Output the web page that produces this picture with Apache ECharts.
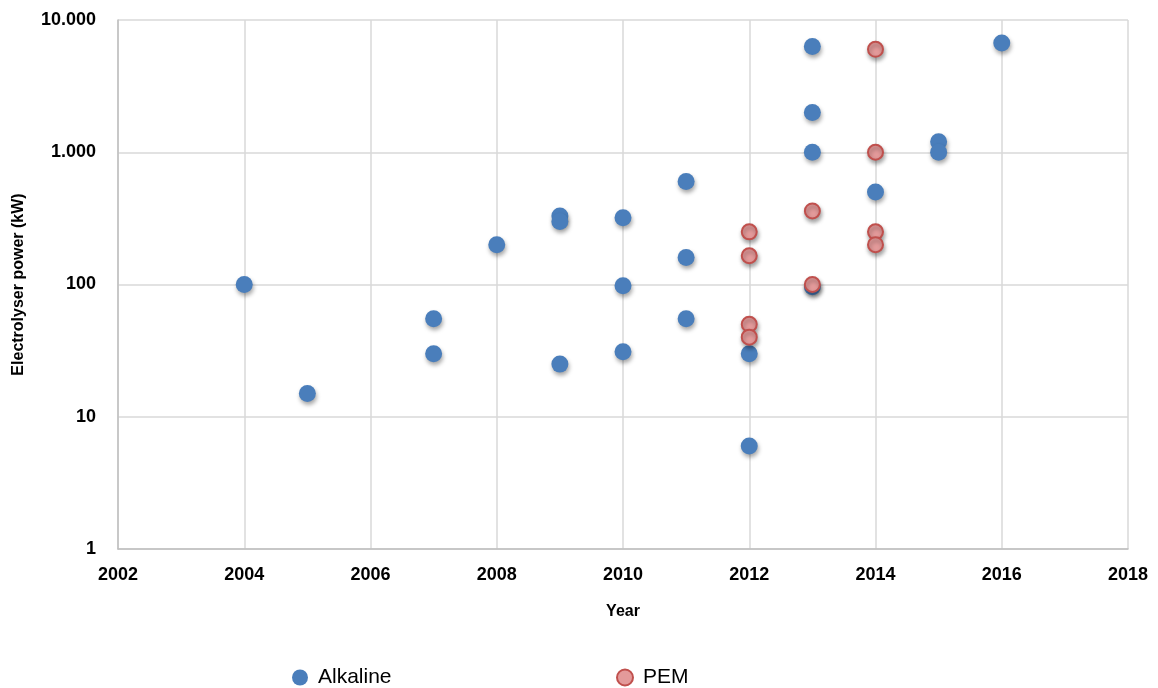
<!DOCTYPE html>
<html>
<head>
<meta charset="utf-8">
<script src="https://cdn.jsdelivr.net/npm/echarts@6/dist/echarts.min.js"></script>
<style>
  html, body { margin: 0; padding: 0; background: #fff; }
  #chart { width: 1158px; height: 688px; }
</style>
</head>
<body>
<div id="chart"></div>
<script>
// Installation year and electrolyser power (kW) per technology
const alkalineYears = [2004, 2005, 2007, 2007, 2008, 2009, 2009, 2009, 2010, 2010, 2010, 2011, 2011, 2011, 2012, 2012, 2013, 2013, 2013, 2013, 2014, 2015, 2015, 2016];
const alkalinePower = [100, 15, 55, 30, 200, 330, 300, 25, 320, 98, 31, 600, 160, 55, 30, 6, 6300, 2000, 1000, 96, 500, 1200, 1000, 6700];

const pemYears = [2012, 2012, 2012, 2012, 2013, 2013, 2014, 2014, 2014, 2014];
const pemPower = [250, 165, 50, 40, 360, 100, 6000, 1000, 250, 200];

const yTicks = [1, 10, 100, 1000, 10000];
const yTickLabels = ['1', '10', '100', '1.000', '10.000'];

const toPoints = (xs, ys) => xs.map((x, i) => [x, ys[i]]);

const FONT = 'Liberation Sans, Arial, sans-serif';
const shadow = {
  shadowBlur: 4,
  shadowOffsetX: 1,
  shadowOffsetY: 3,
  shadowColor: 'rgba(0,0,0,0.35)'
};

const chart = echarts.init(document.getElementById('chart'), null, { renderer: 'canvas' });
chart.setOption({
  animation: false,
  backgroundColor: '#ffffff',
  textStyle: { fontFamily: FONT },
  grid: { left: 118, right: 30, top: 20, bottom: 139, containLabel: false },
  xAxis: {
    type: 'value',
    min: 2002,
    max: 2018,
    interval: 2,
    name: 'Year',
    nameLocation: 'middle',
    nameGap: 55,
    nameTextStyle: { fontFamily: FONT, fontWeight: 'bold', fontSize: 16, color: '#000' },
    axisLine: { show: true, lineStyle: { color: '#BFBFBF', width: 1.5 } },
    axisTick: { show: false },
    axisLabel: {
      fontFamily: FONT, fontWeight: 'bold', fontSize: 18, color: '#000', margin: 17,
      formatter: v => String(v)
    },
    splitLine: { show: true, lineStyle: { color: '#D9D9D9', width: 1.5 } }
  },
  yAxis: {
    type: 'log',
    logBase: 10,
    min: 1,
    max: 10000,
    name: 'Electrolyser power (kW)',
    nameLocation: 'middle',
    nameGap: 91,
    nameTextStyle: { fontFamily: FONT, fontWeight: 'bold', fontSize: 16, color: '#000' },
    axisLine: { show: true, lineStyle: { color: '#BFBFBF', width: 1.5 } },
    axisTick: { show: false },
    axisLabel: {
      fontFamily: FONT, fontWeight: 'bold', fontSize: 18, color: '#000', margin: 22,
      formatter: v => {
        const i = yTicks.indexOf(Math.round(v));
        return i >= 0 ? yTickLabels[i] : '';
      }
    },
    splitLine: { show: true, lineStyle: { color: '#D9D9D9', width: 1.5 } }
  },
  legend: [
    {
      data: ['Alkaline'],
      left: 292, top: 667, padding: 0,
      icon: 'circle', itemWidth: 16, itemHeight: 16,
      textStyle: { fontFamily: FONT, fontSize: 21, color: '#000', padding: [0, 0, 0, 5] }
    },
    {
      data: ['PEM'],
      left: 616, top: 667, padding: 0,
      icon: 'circle', itemWidth: 16, itemHeight: 16,
      textStyle: { fontFamily: FONT, fontSize: 21, color: '#000', padding: [0, 0, 0, 5] }
    }
  ],
  series: [
    {
      name: 'Alkaline',
      type: 'scatter',
      symbol: 'circle',
      symbolSize: 17,
      data: toPoints(alkalineYears, alkalinePower),
      itemStyle: Object.assign({ color: '#4A7EBB', borderColor: '#4A7EBB', borderWidth: 0, opacity: 1 }, shadow),
      z: 2
    },
    {
      name: 'PEM',
      type: 'scatter',
      symbol: 'circle',
      symbolSize: 15,
      data: toPoints(pemYears, pemPower),
      itemStyle: Object.assign({ color: '#E39A9A', borderColor: '#C0504D', borderWidth: 2, opacity: 1 }, shadow),
      z: 3
    }
  ]
});
</script>
</body>
</html>
